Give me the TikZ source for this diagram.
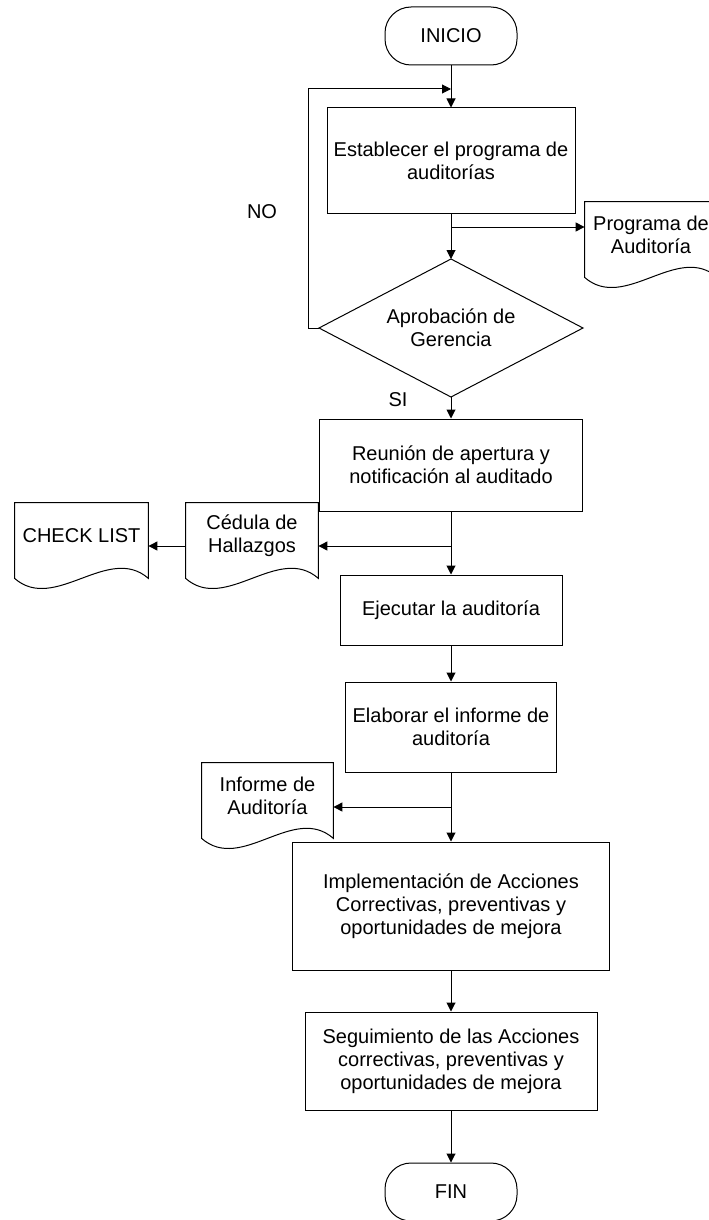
\documentclass[tikz,border=0pt]{standalone}
\usepackage{fontspec}
\setmainfont{Liberation Sans}
\usetikzlibrary{shapes.geometric,arrows.meta,calc}
\tikzset{
  base/.style={draw=black, line width=0.5pt, align=center, font=\fontsize{10}{11.5}\selectfont, inner sep=0pt},
  proc/.style={base, rectangle},
  term/.style={base, rectangle, rounded corners=13pt},
  docn/.style={rectangle, align=center, font=\fontsize{10}{11.5}\selectfont, inner sep=0pt},
  lbl/.style={align=center, font=\fontsize{10}{11.5}\selectfont, inner sep=0pt},
  line/.style={draw=black, line width=0.5pt},
  arr/.style={line, -{Triangle[length=4.5pt,width=4.5pt]}},
}
\newcommand\docshape[1]{\draw[line] ($(#1.south west)+(0,9)$) -- (#1.north west) -- (#1.north east) -- ($(#1.south east)+(0,9)$) .. controls ($(#1.south east)+(-40,-26)$) and ($(#1.south west)+(40,44)$) .. cycle;}
\begin{document}
\begin{tikzpicture}[x=0.5pt,y=-0.5pt]
\useasboundingbox (0,0) rectangle (708,1220);
% nodes
\node[term, minimum width=66pt, minimum height=29pt] (ini) at (451,36) {INICIO};
\node[proc, minimum width=124pt, minimum height=52.5pt] (b1) at (451,160.5) {Establecer el programa de\\auditorías};
\node[docn, minimum width=66pt, minimum height=33pt] (d1) at (651,235) {Programa de\\Auditoría};
% decision diamond
\coordinate (dT) at (451,259);
\coordinate (dB) at (451,397);
\coordinate (dL) at (319,328);
\coordinate (dR) at (583,328);
\draw[line] (dT) -- (dR) -- (dB) -- (dL) -- cycle;
\node[lbl] (dc) at (451,328) {Aprobación de\\Gerencia};
\node[proc, minimum width=131.5pt, minimum height=46pt] (b2) at (451,465) {Reunión de apertura y\\notificación al auditado};
\node[docn, minimum width=66pt, minimum height=33pt] (ced) at (252,536) {Cédula de\\Hallazgos};
\node[docn, minimum width=66.5pt, minimum height=33pt] (chk) at (81.5,536) {CHECK LIST};
\node[proc, minimum width=111pt, minimum height=35pt] (b3) at (451,610) {Ejecutar la auditoría};
\node[proc, minimum width=105.5pt, minimum height=45pt] (b4) at (451,727) {Elaborar el informe de\\auditoría};
\node[docn, minimum width=65.5pt, minimum height=33pt] (inf) at (267.5,796) {Informe de\\Auditoría};
\node[proc, minimum width=158.5pt, minimum height=64pt] (b5) at (451,906) {Implementación de Acciones\\Correctivas, preventivas y\\oportunidades de mejora};
\node[proc, minimum width=146pt, minimum height=49pt] (b6) at (451,1061) {Seguimiento de las Acciones\\correctivas, preventivas y\\oportunidades de mejora};
\node[term, minimum width=66pt, minimum height=29pt] (fin) at (451,1192) {FIN};
\node[lbl] (no) at (262,212) {NO};
\node[lbl] (si) at (398,400) {SI};
% document outlines
\docshape{d1}
\docshape{ced}
\docshape{chk}
\docshape{inf}
% connector points
\coordinate (lp) at (451,89);
\coordinate (br1) at (451,227);
\coordinate (br2) at (451,546);
\coordinate (br3) at (451,807);
% connectors
\draw[arr] (ini) -- (b1);
\draw[arr] (dL) -- ++(-11,0) |- (lp);
\draw[arr] (b1) -- (dT);
\draw[arr] (br1) -- (br1 -| d1.west);
\draw[arr] (dB) -- (b2);
\draw[arr] (b2) -- (b3);
\draw[arr] (br2) -- (br2 -| ced.east);
\draw[arr] (ced.west |- br2) -- (br2 -| chk.east);
\draw[arr] (b3) -- (b4);
\draw[arr] (b4) -- (b5);
\draw[arr] (br3) -- (br3 -| inf.east);
\draw[arr] (b5) -- (b6);
\draw[arr] (b6) -- (fin);
\end{tikzpicture}
\end{document}
